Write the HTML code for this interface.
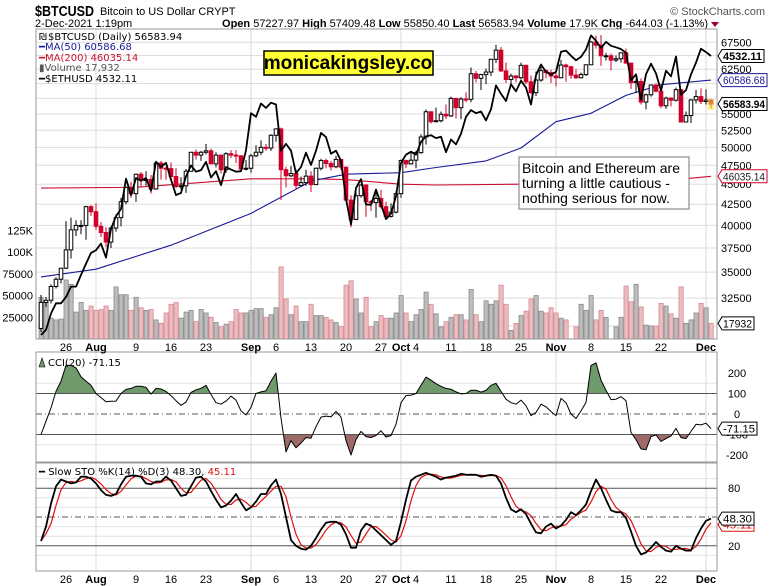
<!DOCTYPE html>
<html><head><meta charset="utf-8">
<style>
html,body{margin:0;padding:0;background:#fff;}
svg{display:block;}
text{font-family:"Liberation Sans",sans-serif;}
.lg{font-family:"DejaVu Sans",sans-serif;font-size:10px;}
</style></head>
<body>
<svg id="chart" width="771" height="586" viewBox="0 0 771 586" xmlns="http://www.w3.org/2000/svg">
<rect x="0" y="0" width="771" height="586" fill="#fff"/>
<g>
<text x="35" y="16" font-size="15" font-weight="bold" textLength="59" lengthAdjust="spacingAndGlyphs">$BTCUSD</text>
<text x="100" y="15" font-size="11">Bitcoin to US Dollar  CRYPT</text>
<text x="765" y="15" font-size="11" fill="#555" text-anchor="end">© StockCharts.com</text>
<text x="35" y="27" font-size="11">2-Dec-2021 1:19pm</text>
<text x="708" y="27" font-size="11" text-anchor="end"><tspan font-weight="bold">Open</tspan> 57227.97 <tspan font-weight="bold">High</tspan> 57409.48 <tspan font-weight="bold">Low</tspan> 55850.40 <tspan font-weight="bold">Last</tspan> 56583.94 <tspan font-weight="bold">Volume</tspan> 17.9K <tspan font-weight="bold">Chg</tspan> -644.03 (-1.13%)</text>
<polygon points="711,22 719,22 715,27" fill="#a0002a"/>
</g>
<g id="main"></g>
<g id="cci"></g>
<g id="sto"></g>
<g id="over"></g>
</svg>
<script>
// ---- data (Jul 21 2021 .. Dec 2 2021, daily) ----
const startDay = -42; // days relative to Sep 1
const btcClose = [32100,32300,33600,34300,35400,37300,39500,40000,40000,42200,41600,
39900,39200,38150,39700,40900,42800,44600,43800,46300,45600,45600,44400,47800,47100,47050,46000,44700,44800,46700,49300,48900,49300,49500,47700,48900,46900,49100,48900,48800,47000,47100,
48800,49300,50000,49900,51750,52700,46900,46100,46400,44850,45200,46050,44950,47100,48150,47750,47300,48300,47250,43000,40700,43550,44900,42800,42700,43200,42200,41050,41550,43800,
48150,47700,48200,49250,51500,55350,53800,53950,54950,54700,57500,56000,57400,57350,61700,60900,61550,62000,64300,66000,62200,60700,61300,61000,63200,60300,58450,60600,62250,61900,61300,
61000,63250,62950,61450,61000,61550,63300,67550,66950,64950,64950,64150,64400,65500,63600,60150,60350,56900,58100,59750,58700,56300,57550,57200,58950,53750,54750,57250,57800,57000,
57230,56584];
const btcFirstOpen = 29800;
const btcHigh = [32800,32600,33800,34500,35400,40500,40900,40600,40600,42300,42400,
42600,40400,39800,39900,41300,43300,44700,45300,46400,46600,46700,46200,48100,48100,47300,47900,47100,45900,47000,49300,49700,49500,50500,49800,49300,49000,49300,49600,49600,48900,48200,
49100,50300,51000,50500,51900,52800,52900,47300,47400,47000,46000,46900,46700,47200,48400,48400,48100,48800,48300,47300,43600,44000,45000,45000,43000,43900,44300,42800,42600,44100,
48300,48300,49300,49500,51900,55700,55200,56000,55400,56500,57800,57600,57700,58500,62800,62200,61700,62600,64400,67000,66600,63700,61700,61500,63700,63300,61400,62100,62900,62400,62400,
62300,64200,63500,63100,62500,61900,63300,67800,68800,68900,65500,65400,65000,65500,66300,63600,60800,60900,58300,59800,60000,59200,57800,57700,59300,59100,55400,57400,58900,59200,
59000,57400];
const btcLow = [29500,31700,32000,33400,33900,35300,36400,38800,39000,38400,41100,
39500,38700,37600,37500,39300,39900,42500,43300,42800,44700,44800,43800,44300,45600,45600,45600,44500,44300,43900,46700,48300,48100,49000,47700,47200,46400,46500,48500,47800,46900,46800,
46500,48600,48900,49500,49500,50800,43000,44600,45900,44300,44800,44800,44000,44900,46800,47100,46800,47100,46900,42800,39800,40600,43300,41000,41700,40900,42000,41000,40900,41400,
43300,47100,47600,47100,49100,50400,53500,53700,53700,54200,54500,54300,54200,56900,56900,60200,58900,59900,61300,63600,62000,60100,59900,60200,60700,59900,58200,57900,60300,60900,60100,
59500,60900,60300,60800,60800,60900,61300,63300,66300,63100,64100,62300,63800,63700,63600,59100,58400,56500,55700,57800,58500,55900,55800,56200,57000,53700,53700,53600,56700,56600,
56500,55900];
const volumeK = [48,43,24,22,23,68,63,31,42,33,38,
33,34,38,33,60,51,51,33,48,36,33,34,22,18,30,40,42,24,31,33,20,34,30,25,19,14,17,20,34,30,30,
33,35,35,25,28,36,83,46,28,38,20,20,40,27,27,25,22,19,14,62,67,46,30,48,14,20,27,24,24,30,
50,30,20,28,34,54,40,29,14,20,25,28,28,22,57,28,20,44,40,44,62,40,10,18,27,32,46,50,32,30,36,
30,24,22,0,14,40,33,50,22,33,25,0,14,25,61,43,63,37,16,15,15,41,38,29,24,60,18,22,30,41,
36,18];
const ethClose = [1995,2025,2125,2190,2190,2230,2300,2300,2380,2460,2540,
2560,2610,2505,2725,2830,2890,3160,3010,3165,3140,3165,3050,3320,3270,3310,3150,3010,3030,3180,3285,3225,3240,3320,3170,3230,3100,3270,3245,3225,3230,3435,
3830,3790,3940,3890,3950,3930,3430,3500,3430,3210,3270,3410,3290,3430,3615,3570,3400,3430,3330,2975,2760,3075,3155,2930,2925,3060,2930,2805,2850,3000,
3310,3390,3420,3390,3520,3580,3590,3560,3575,3415,3545,3495,3605,3790,3865,3830,3850,3750,3875,4155,4055,3970,4170,4085,4215,4130,3930,4285,4420,4325,4290,
4325,4590,4605,4535,4475,4520,4620,4815,4740,4640,4725,4670,4650,4625,4575,4220,4295,3985,4295,4430,4305,4095,4340,4270,4525,4045,4100,4295,4445,4630,
4585,4532];
const ma50Days = [-42,-31,-16,0,12,19,30,37,47,54,61,68,75,82,92];
const ma50Vals = [34530,35300,37800,41400,45400,46300,46500,47200,48100,49900,53800,55100,58000,59800,60587];
const ma200Days = [-42,-23,0,12,19,30,37,54,82,92];
const ma200Vals = [44500,44600,45700,45700,45600,45000,44900,45000,45400,46035];
const cciVals = [-100,-35,30,110,160,237,237,225,182,160,140,100,80,60,62,63,100,120,125,135,135,130,97,125,122,110,90,65,42,58,105,118,125,140,95,55,48,63,87,68,15,-5,32,100,108,113,160,200,-20,-185,-130,-165,-142,-115,-118,-62,-15,-10,-14,12,-15,-130,-200,-125,-85,-110,-115,-105,-82,-112,-105,-50,55,90,92,100,140,180,165,148,135,125,121,108,98,100,116,116,107,115,140,150,110,72,55,48,68,40,-8,8,48,35,12,-8,76,55,0,-22,15,56,237,250,165,115,70,72,85,65,-90,-125,-170,-174,-110,-102,-134,-120,-108,-70,-115,-120,-85,-50,-53,-45,-71.15];
const stoK = [25,40,64,82,89,87,85,86,92,92,90,85,78,73,72,74,84,92,93,93,92,85,84,87,87,92,88,80,72,73,82,91,92,87,77,68,60,62,67,74,65,57,60,66,74,74,83,89,74,50,26,20,17,16,20,28,37,44,45,45,42,32,18,18,36,43,41,36,31,26,21,25,45,68,88,92,94,96,94,92,89,91,92,93,95,94,94,94,92,93,94,93,85,70,58,55,58,53,43,34,33,40,43,38,41,47,55,52,57,63,77,89,80,68,57,55,55,49,35,20,11,13,18,24,19,15,14,20,17,15,15,28,38,46,48.3];
const priceTicks = [67500,62500,55000,52500,50000,47500,45000,42500,40000,37500,35000,32500];
const priceGrid = [67500,65000,62500,60000,57500,55000,52500,50000,47500,45000,42500,40000,37500,35000,32500,30000];
const volTickLabels = ["125K","100K","75000","50000","25000"];
const volTicks = [125,100,75,50,25];
const cciTicks = [200,100,0,-100,-200];
const stoTicks = [80,20];
const dateLabels = ["26","Aug","9","16","23","Sep","6","13","20","27","Oct","4","11","18","25","Nov","8","15","22","Dec"];
const dateDays = [-37,-31,-23,-16,-9,0,5,12,19,26,30,33,40,47,54,61,68,75,82,91];
const monthDays = [-31,0,30,61,91];

// ---- axes ----
const L=36,R=717,MT=29,MB=339,CT=352,CB=462,ST=463,SB=571;
const xDay = d => 251 + 5.0*d;
const yP = p => 42.3 + 350*Math.log(67500/p);
const yE = p => 56 + 340*Math.log(4532.11/p);
const yV = k => 339 - k*0.868;
const yC = v => 414 - v*0.205;
const yS = v => 565 - v*0.96;
const NS="http://www.w3.org/2000/svg";
function mk(tag, attrs, parent, txt){const e=document.createElementNS(NS,tag);for(const k in attrs)e.setAttribute(k,attrs[k]);if(txt!==undefined)e.textContent=txt;parent.appendChild(e);return e;}
const main=document.getElementById('main'), cci=document.getElementById('cci'), sto=document.getElementById('sto'), over=document.getElementById('over');

[[MT,MB,main],[CT,CB,cci],[ST,SB,sto]].forEach(([t,b,g])=>{
  monthDays.forEach(d=>{const l=mk('line',{x1:xDay(d),x2:xDay(d),y1:t,y2:b,stroke:'#d8d8d8','stroke-width':1},g);
    
    });
});
priceGrid.forEach(p=>{const l=mk('line',{x1:L,x2:R,y1:yP(p),y2:yP(p),stroke:'#dedede'},main);
  
  });
[10,30,40,60,70,90].forEach(v=>{const l=mk('line',{x1:L,x2:R,y1:yS(v),y2:yS(v),stroke:'#e2e2e2'},sto);
  
  });
[150,-150].forEach(v=>{const l=mk('line',{x1:L,x2:R,y1:yC(v),y2:yC(v),stroke:'#e2e2e2'},cci);
  
  });

priceTicks.forEach(p=>{const t=mk('text',{x:721,y:yP(p)+4,'font-size':11},main,String(p));
  
  });
volTicks.forEach((v,i)=>{const t=mk('text',{x:33,y:yV(v)+4,'font-size':11,'text-anchor':'end'},main,volTickLabels[i]);
  
  });

const opens = btcClose.map((c,i)=> i===0?btcFirstOpen:btcClose[i-1]);
volumeK.forEach((v,i)=>{ if(!v) return; const x=xDay(startDay+i); const up=btcClose[i]>=opens[i];
  const r=mk('rect',{x:x-2,y:yV(v),width:4.2,height:339-yV(v),fill:up?'#bdbdbd':'#ebbcc0',stroke:up?'#8a8a8a':'#d68a92','stroke-width':0.8},main);
  
  });

function pl(days,vals,fn,col,w,g,name){const pts=days.map((d,i)=>xDay(d).toFixed(1)+','+fn(vals[i]).toFixed(1)).join(' ');
  const p=mk('polyline',{points:pts,fill:'none',stroke:col,'stroke-width':w,'stroke-linejoin':'round'},g);
  
  return p;}
pl(ma200Days,ma200Vals,yP,'#cc1030',1.1,main,'ma200-line');
pl(ma50Days,ma50Vals,yP,'#1a1a9a',1.1,main,'ma50-line');

btcClose.forEach((c,i)=>{const x=xDay(startDay+i), o=opens[i], up=c>=o;
  const col=up?'#000':'#d0002a';
  const w=mk('line',{x1:x,x2:x,y1:yP(btcHigh[i]),y2:yP(btcLow[i]),stroke:col,'stroke-width':1},main);
  
  
  const top=yP(Math.max(o,c)), bot=yP(Math.min(o,c));
  const b=mk('rect',{x:x-1.8,y:top,width:3.6,height:Math.max(1,bot-top),fill:up?'#fff':'#d0002a',stroke:col,'stroke-width':1},main);
  
  });
{const x=xDay(startDay+btcClose.length-1);const hl=mk('rect',{x:x-3.5,y:99,width:7,height:11,fill:'#f5e642',opacity:0.55},main);

}

pl(ethClose.map((_,i)=>startDay+i),ethClose,yE,'#000',1.8,main,'ethusd-line');

const cciDays = cciVals.map((_,i)=>startDay+i);
const defs=mk('defs',{},document.getElementById('chart'));
mk('clipPath',{id:'cAbove'},defs); mk('rect',{x:L,y:CT,width:R-L,height:yC(100)-CT},defs.lastChild);
mk('clipPath',{id:'cBelow'},defs); mk('rect',{x:L,y:yC(-100),width:R-L,height:CB-yC(-100)},defs.lastChild);
const linePts=cciDays.map((d,i)=>xDay(d).toFixed(1)+','+yC(cciVals[i]).toFixed(1));
const x0=xDay(cciDays[0]), x1=xDay(cciDays[cciDays.length-1]);
const fa=mk('polygon',{points:x0+','+yC(100)+' '+linePts.join(' ')+' '+x1+','+yC(100),fill:'#6f9a6c','clip-path':'url(#cAbove)'},cci);


const fb=mk('polygon',{points:x0+','+yC(-100)+' '+linePts.join(' ')+' '+x1+','+yC(-100),fill:'#9c6a68','clip-path':'url(#cBelow)'},cci);


[[100,''],[0,'6,3,1,3'],[-100,'']].forEach(([v,da])=>{const l=mk('line',{x1:L,x2:R,y1:yC(v),y2:yC(v),stroke:'#555','stroke-width':1,'stroke-dasharray':da},cci);
  
  });
pl(cciDays,cciVals,yC,'#000',1,cci,'cci-line');
cciTicks.forEach(v=>{const t=mk('text',{x:737,y:yC(v)+4,'font-size':11,'text-anchor':'middle'},cci,String(v));
  
  });

const stoD = stoK.map((v,i)=>{const a=stoK.slice(Math.max(0,i-2),i+1);return a.reduce((s,x)=>s+x,0)/a.length;});
[[80,''],[50,'6,3,1,3'],[20,'']].forEach(([v,da])=>{const l=mk('line',{x1:L,x2:R,y1:yS(v),y2:yS(v),stroke:'#555','stroke-width':1,'stroke-dasharray':da},sto);
  
  });
pl(stoK.map((_,i)=>startDay+i),stoD,yS,'#e01010',1.2,sto,'sto-d-line');
pl(stoK.map((_,i)=>startDay+i),stoK,yS,'#000',1.8,sto,'sto-k-line');
stoTicks.forEach(v=>{const t=mk('text',{x:728,y:yS(v)+4,'font-size':11},sto,String(v));
  
  });

[[MT,MB],[CT,CB],[ST,SB]].forEach(([t,b])=>{const r=mk('rect',{x:L,y:t,width:R-L,height:b-t,fill:'none',stroke:'#999','stroke-width':1},over);
  
  });

[[347,'date-axis-top'],[579,'date-axis-bottom']].forEach(([y,n])=>{
  dateLabels.forEach((s,i)=>{const bold=isNaN(+s);const t=mk('text',{x:xDay(dateDays[i]),y:y+4,'font-size':11,'text-anchor':'middle','font-weight':bold?'bold':'normal'},over,s);
    
    });
});

function tag(y,txt,col,txtCol,bold,name,w){
  const g=mk('g',{},over);
  
  
  mk('polygon',{points:`718,${y} 722,${y-6.5} ${722+w},${y-6.5} ${722+w},${y+6.5} 722,${y+6.5}`,fill:'#fff',stroke:col,'stroke-width':1},g);
  mk('text',{x:723,y:y+4,'font-size':11,'font-weight':bold?'bold':'normal',fill:txtCol,textLength:w-3,lengthAdjust:'spacingAndGlyphs'},g,txt);
}
tag(yP(46035.14),'46035.14','#d0002a','#222',false,'ma200-value-tag',45);
tag(yP(56583.94),'56583.94','#000','#000',true,'last-price-tag',45);
tag(yP(60586.68),'60586.68','#1a1a9a','#1a1a9a',false,'ma50-value-tag',45);
tag(yE(4532.11),'4532.11','#000','#000',true,'ethusd-value-tag',42);
tag(yV(17.932),'17932','#000','#000',false,'volume-value-tag',32);
tag(yC(-71.15),'-71.15','#000','#000',false,'cci-value-tag',35);
tag(yS(45.11)+3,'45.11','#e01010','#e01010',false,'sto-d-value-tag',32);
tag(yS(48.3),'48.30','#000','#000',false,'sto-k-value-tag',32);
</script>
<svg style="position:absolute;left:0;top:0" width="771" height="586">
<g class="lg">
<text x="48" y="40" class="lg">$BTCUSD (Daily) 56583.94</text>
<text x="39" y="50" fill="#1a1a9a" class="lg">━MA(50) 60586.68</text>
<text x="39" y="61" fill="#cc1030" class="lg">━MA(200) 46035.14</text>
<text x="39" y="71" fill="#555" class="lg">▮Volume 17,932</text>
<text x="39" y="82" class="lg">━$ETHUSD 4532.11</text>
<text x="39" y="40" class="lg" font-size="9">₪</text>
</g>
<g>
<rect x="264" y="51" width="169" height="24" fill="#ffff33" stroke="#000" stroke-width="1.5"/>
<text x="348" y="69" font-size="19" font-weight="bold" text-anchor="middle">monicakingsley.co</text>
</g>
<g>
<rect x="519" y="157" width="170" height="52" fill="#fff" stroke="#777" stroke-width="1"/>
<text x="522" y="173" font-size="14">Bitcoin and Ethereum are</text>
<text x="522" y="188" font-size="14">turning a little cautious -</text>
<text x="522" y="203" font-size="14">nothing serious for now.</text>
</g>
<text x="48" y="366" class="lg">CCI(20) -71.15</text>
<polygon points="39,367 42,358 45,367" fill="#6f9a6c" stroke="#000" stroke-width="0.6"/>
<text x="39" y="475" class="lg">━ Slow STO %K(14) %D(3) 48.30, <tspan fill="#e01010">45.11</tspan></text>
</svg>
</body></html>
